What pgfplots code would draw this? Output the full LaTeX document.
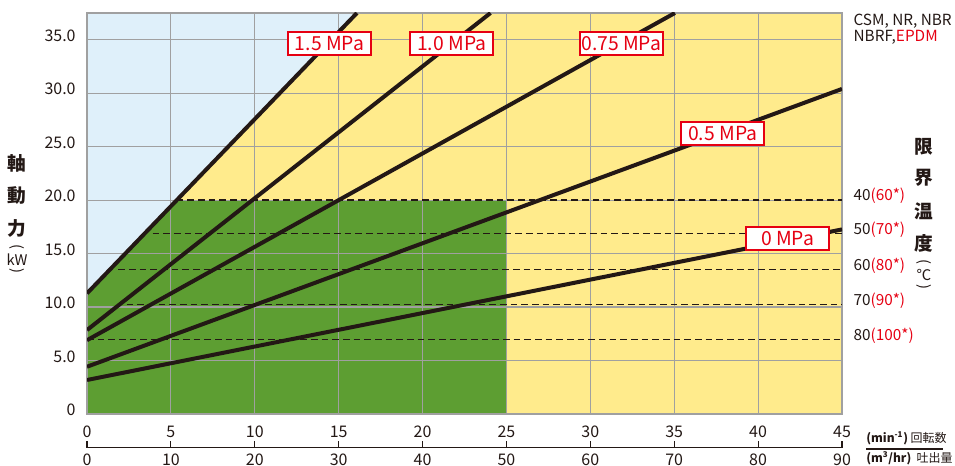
\documentclass[border=0pt]{standalone}
\usepackage{fontspec}
\setmainfont{Noto Sans CJK JP}
\usepackage{pgfplots}
\pgfplotsset{compat=1.18}
\definecolor{cblue}{RGB}{223,240,250}
\definecolor{cyel}{RGB}{255,235,140}
\definecolor{cgreen}{RGB}{93,158,50}
\definecolor{cred}{RGB}{230,0,18}
\definecolor{cblk}{RGB}{35,24,21}
\definecolor{cgrid}{RGB}{160,160,160}
\tikzset{
  mpa/.style={draw=cred, line width=1.5pt, fill=white, text=cred,
    font=\fontsize{14.5}{16}\selectfont, minimum width=62pt, minimum height=17pt, inner sep=1pt},
  tlab/.style={anchor=west, text=cblk, font=\fontsize{11.5}{13}\selectfont, inner sep=0pt},
  vlab/.style={text=cblk, font=\fontsize{14}{16}\selectfont\bfseries, inner sep=0pt},
}
\begin{document}
\begin{tikzpicture}
\begin{axis}[
  set layers,
  clip mode=individual,
  scale only axis, width=566.25pt, height=300.75pt,
  xmin=0, xmax=45, ymin=0, ymax=37.5,
  xtick={0,5,...,45}, xticklabels={},
  ytick={0,5,...,35}, yticklabels={0,5.0,10.0,15.0,20.0,25.0,30.0,35.0},
  major tick length=0pt,
  grid=major, grid style={cgrid, line width=0.9pt},
  axis line style={cgrid, line width=0.9pt},
  axis background/.style={fill=cblue},
  yticklabel style={font=\fontsize{12}{14}\selectfont, text=cblk, xshift=-5pt, yshift=3pt},
]
\coordinate (O) at (rel axis cs:0,0);
% regions
\addplot[on layer=axis background, fill=cyel, draw=none] coordinates {(0,11.28) (16.09,37.5) (45,37.5)} \closedcycle;
\addplot[on layer=axis background, fill=cgreen, draw=none] coordinates {(0,11.28) (5.35,20) (25,20)} \closedcycle;
% temperature limits (dashed)
\addplot[cblk, line width=1.1pt, dash pattern=on 5pt off 3pt] coordinates {(5.35,20) (45,20)};
\addplot[cblk, line width=1.1pt, dash pattern=on 5pt off 3pt] coordinates {(3.91,16.89) (45,16.89)};
\addplot[cblk, line width=1.1pt, dash pattern=on 5pt off 3pt] coordinates {(1.87,13.52) (45,13.52)};
\addplot[cblk, line width=1.1pt, dash pattern=on 5pt off 3pt] coordinates {(2.36,10.25) (45,10.25)};
\addplot[cblk, line width=1.1pt, dash pattern=on 5pt off 3pt] coordinates {(0,6.98) (45,6.98)};
% power lines
\addplot[cblk, line width=3pt] coordinates {(0,11.28) (16.09,37.5)};
\addplot[cblk, line width=3pt] coordinates {(0,7.85) (24.05,37.5)};
\addplot[cblk, line width=3pt] coordinates {(0,6.9) (35.04,37.5)};
\addplot[cblk, line width=3pt] coordinates {(0,4.42) (45,30.4)};
\addplot[cblk, line width=3pt] coordinates {(0,3.18) (45,17.26)};
% pressure labels
\node[mpa] at (axis cs:14.45,34.67) {1.5 MPa};
\node[mpa] at (axis cs:21.74,34.67) {1.0 MPa};
\node[mpa] at (axis cs:31.84,34.67) {0.75 MPa};
\node[mpa] at (axis cs:37.89,26.23) {0.5 MPa};
\node[mpa] at (axis cs:41.75,16.42) {0 MPa};
% temperature labels
\node[tlab] at ([xshift=8.5pt,yshift=3pt]axis cs:45,20) {40\textcolor{cred}{(60*)}};
\node[tlab] at ([xshift=8.5pt,yshift=3pt]axis cs:45,16.89) {50\textcolor{cred}{(70*)}};
\node[tlab] at ([xshift=8.5pt,yshift=3pt]axis cs:45,13.52) {60\textcolor{cred}{(80*)}};
\node[tlab] at ([xshift=8.5pt,yshift=3pt]axis cs:45,10.25) {70\textcolor{cred}{(90*)}};
\node[tlab] at ([xshift=8.5pt,yshift=3pt]axis cs:45,6.98) {80\textcolor{cred}{(100*)}};
\node[tlab] at ([xshift=8.5pt]axis cs:45,36.76) {CSM, NR, NBR};
\node[tlab] at ([xshift=8.5pt]axis cs:45,35.2) {NBRF,\textcolor{cred}{EPDM}};
% bottom double scale
\draw[cblk, line width=0.9pt] ([yshift=-25.3pt]axis cs:0,0) -- ([yshift=-25.3pt]axis cs:45,0);
\pgfplotsinvokeforeach{0,5,...,45}{
  \draw[cblk, line width=0.9pt] ([yshift=-25.3pt]axis cs:#1,0) -- ([yshift=-20pt]axis cs:#1,0);
  \node[text=cblk, inner sep=0pt, font=\fontsize{12}{14}\selectfont] at ([yshift=-13.7pt]axis cs:#1,0) {#1};
  \node[text=cblk, inner sep=0pt, font=\fontsize{12}{14}\selectfont] at ([yshift=-34pt]axis cs:#1,0) {\pgfmathparse{int(2*#1)}\pgfmathresult};
}
\node[anchor=west, text=cblk, font=\fontsize{9}{11}\selectfont, inner sep=0pt] at ([xshift=18pt,yshift=-18pt]axis cs:45,0) {\textbf{(min\textsuperscript{-1})} 回転数};
\node[anchor=west, text=cblk, font=\fontsize{9}{11}\selectfont, inner sep=0pt] at ([xshift=18pt,yshift=-33.5pt]axis cs:45,0) {\textbf{(m\textsuperscript{3}/hr)}\ \ 吐出量};
\draw[cblk, line width=0.8pt] ([xshift=18pt,yshift=-26.25pt]axis cs:45,0) -- ([xshift=75.75pt,yshift=-26.25pt]axis cs:45,0);
\end{axis}
% vertical axis titles
\node[vlab] at ([shift={(-52.5pt,188.25pt)}]O) {軸};
\node[vlab] at ([shift={(-52.5pt,163.5pt)}]O) {動};
\node[vlab] at ([shift={(-52.5pt,139.1pt)}]O) {力};
\node[text=cblk, rotate=-90, font=\fontsize{11}{12}\selectfont, inner sep=0pt] at ([shift={(-52.5pt,125pt)}]O) {(};
\node[text=cblk, font=\fontsize{11}{12}\selectfont, inner sep=0pt] at ([shift={(-52.5pt,115.5pt)}]O) {kW};
\node[text=cblk, rotate=-90, font=\fontsize{11}{12}\selectfont, inner sep=0pt] at ([shift={(-52.5pt,107pt)}]O) {)};
\node[vlab] at ([shift={(627.75pt,200.5pt)}]O) {限};
\node[vlab] at ([shift={(627.75pt,177pt)}]O) {界};
\node[vlab] at ([shift={(627.75pt,151.7pt)}]O) {温};
\node[vlab] at ([shift={(627.75pt,128.25pt)}]O) {度};
\node[text=cblk, rotate=-90, font=\fontsize{11}{12}\selectfont, inner sep=0pt] at ([shift={(627.75pt,114pt)}]O) {(};
\node[text=cblk, font=\fontsize{11}{12}\selectfont, inner sep=0pt] at ([shift={(627.75pt,104.6pt)}]O) {℃};
\node[text=cblk, rotate=-90, font=\fontsize{11}{12}\selectfont, inner sep=0pt] at ([shift={(627.75pt,95.25pt)}]O) {)};
\pgfresetboundingbox
\useasboundingbox ([shift={(-65.25pt,-39pt)}]O) rectangle ([shift={(651pt,310.5pt)}]O);
\end{tikzpicture}
\end{document}
